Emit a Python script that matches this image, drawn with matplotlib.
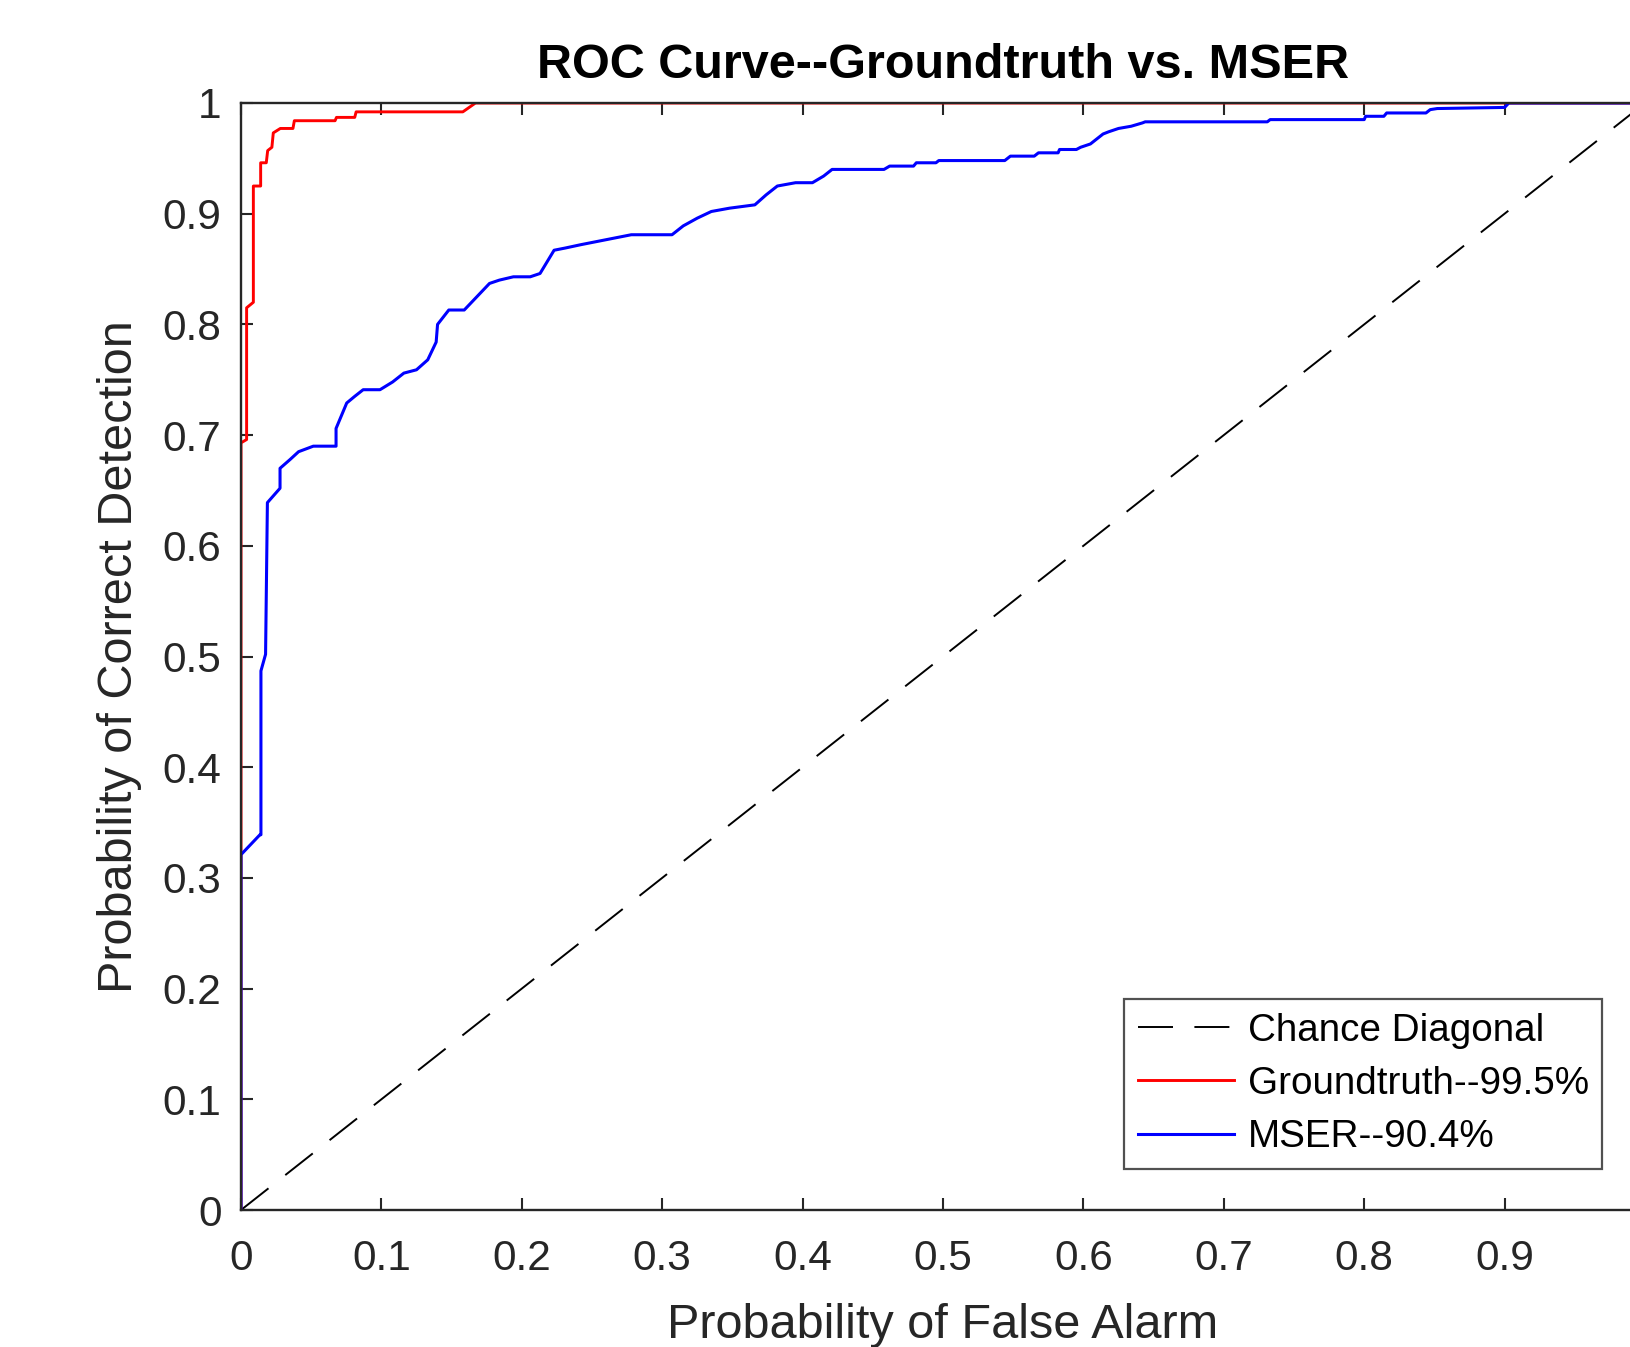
import matplotlib
matplotlib.use("Agg")
import matplotlib.pyplot as plt

plt.rcParams['font.family'] = ['Liberation Sans', 'DejaVu Sans']

# ROC points
gt_fpr = [0, 0, 0.004, 0.004, 0.0088, 0.0088, 0.014, 0.014, 0.018, 0.019, 0.022, 0.023,
          0.028, 0.037, 0.038, 0.067, 0.068, 0.081, 0.082, 0.158, 0.167, 1.0]
gt_tpr = [0, 0.693, 0.696, 0.815, 0.820, 0.925, 0.925, 0.946, 0.946, 0.957, 0.960, 0.973,
          0.977, 0.977, 0.984, 0.984, 0.987, 0.987, 0.992, 0.992, 1.0, 1.0]

mser_fpr = [0, 0, 0.0135, 0.0142, 0.0142, 0.0175, 0.0188, 0.0278, 0.0278, 0.035, 0.041,
            0.0515, 0.0677, 0.0677, 0.0753, 0.081, 0.087, 0.099, 0.108, 0.116, 0.125,
            0.133, 0.139, 0.140, 0.148, 0.159, 0.177, 0.184, 0.194, 0.206, 0.213, 0.223,
            0.231, 0.242, 0.254, 0.266, 0.278, 0.307, 0.315, 0.325, 0.335, 0.348, 0.366,
            0.374, 0.382, 0.395, 0.407, 0.415, 0.421, 0.458, 0.462, 0.479, 0.481, 0.495,
            0.497, 0.544, 0.548, 0.565, 0.568, 0.582, 0.583, 0.595, 0.598, 0.605, 0.614,
            0.618, 0.625, 0.634, 0.642, 0.644, 0.731, 0.733, 0.800, 0.801, 0.814, 0.816,
            0.844, 0.847, 0.852, 0.900, 0.903, 1.0]
mser_tpr = [0, 0.321, 0.339, 0.339, 0.487, 0.502, 0.639, 0.652, 0.670, 0.678, 0.685,
            0.690, 0.690, 0.706, 0.729, 0.735, 0.741, 0.741, 0.748, 0.756, 0.759,
            0.768, 0.784, 0.800, 0.813, 0.813, 0.837, 0.840, 0.843, 0.843, 0.846, 0.867,
            0.869, 0.872, 0.875, 0.878, 0.881, 0.881, 0.889, 0.896, 0.902, 0.905, 0.908,
            0.917, 0.925, 0.928, 0.928, 0.934, 0.940, 0.940, 0.943, 0.943, 0.946, 0.946,
            0.948, 0.948, 0.952, 0.952, 0.955, 0.955, 0.958, 0.958, 0.960, 0.963, 0.972,
            0.974, 0.977, 0.979, 0.982, 0.983, 0.983, 0.985, 0.985, 0.988, 0.988, 0.991,
            0.991, 0.994, 0.995, 0.996, 1.0, 1.0]

chance = [0, 1]
ticks = [0, 0.1, 0.2, 0.3, 0.4, 0.5, 0.6, 0.7, 0.8, 0.9, 1]
labels = ['Chance Diagonal', 'Groundtruth--99.5%', 'MSER--90.4%']

W, H = 1631, 1347
fig = plt.figure(figsize=(W / 100, H / 100), dpi=100)
ax = fig.add_axes([241 / W, 1 - 1210 / H, 1404 / W, 1107 / H])

ax.plot(chance, chance, color='black', lw=1.4, dashes=(18, 11), label=labels[0])
ax.plot(gt_fpr, gt_tpr, color='red', lw=2.1, label=labels[1])
ax.plot(mser_fpr, mser_tpr, color='blue', lw=2.2, label=labels[2])

ax.set_xlim(0, 1)
ax.set_ylim(0, 1)
ax.set_xticks(ticks)
ax.set_yticks(ticks)
# the x=1 label falls outside the cropped figure in the original
ax.set_xticklabels([f'{t:g}' if t < 1 else '' for t in ticks])
ax.set_yticklabels([f'{t:g}' for t in ticks])

gray = '#262626'
for s in ax.spines.values():
    s.set_color(gray)
    s.set_linewidth(1.7)
ax.tick_params(direction='in', top=True, right=True, length=8.5, width=1.5,
               colors=gray, labelsize=30.5)
ax.tick_params(axis='x', pad=21)
ax.tick_params(axis='y', pad=14)

ax.set_xlabel('Probability of False Alarm', fontsize=35, color=gray)
ax.set_ylabel('Probability of Correct Detection', fontsize=35, color=gray)
ax.xaxis.set_label_coords(0.5, (1210 - 1326) / 1107)
ax.xaxis.label.set_va('center')
ax.yaxis.set_label_coords((120 - 241) / 1404, 0.5)
ax.yaxis.label.set_va('center')

ax.text(0.5, (1210 - 65) / 1107, 'ROC Curve--Groundtruth vs. MSER', transform=ax.transAxes,
        ha='center', va='center', fontsize=35, fontweight='bold', color='black')

leg = ax.legend(loc='upper left', bbox_to_anchor=(1124 / W, 1 - 999 / H),
                bbox_transform=fig.transFigure, borderaxespad=0, fontsize=27.8,
                frameon=True, fancybox=False, handlelength=2.5, handletextpad=0.35,
                labelspacing=0.45, borderpad=0.35)
leg.get_frame().set_edgecolor(gray)
leg.get_frame().set_linewidth(1.6)

fig.savefig('out.png', dpi=100)
